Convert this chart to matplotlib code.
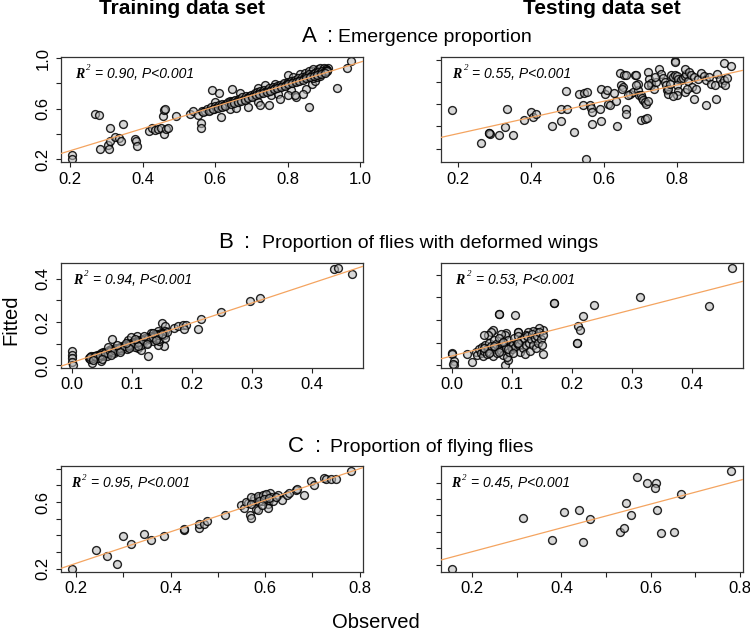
import matplotlib

matplotlib.use("Agg")
import matplotlib.pyplot as plt

W, H = 750, 632
SANS = "Liberation Sans"

# (observed, fitted) pairs
A_TRAIN = [
    (0.976, 0.976), (0.965, 0.921), (0.936, 0.763), (0.858, 0.613), (0.204, 0.232), (0.205, 0.205),
    (0.270, 0.560), (0.279, 0.547), (0.282, 0.284), (0.305, 0.310), (0.307, 0.284), (0.310, 0.342),
    (0.310, 0.450), (0.323, 0.376), (0.334, 0.368), (0.340, 0.342), (0.347, 0.476), (0.380, 0.363),
    (0.381, 0.342), (0.385, 0.305), (0.417, 0.421), (0.427, 0.447), (0.434, 0.429), (0.443, 0.437),
    (0.450, 0.447), (0.459, 0.403), (0.464, 0.442), (0.470, 0.447), (0.455, 0.542), (0.459, 0.587),
    (0.463, 0.600), (0.493, 0.542), (0.530, 0.560), (0.539, 0.579), (0.553, 0.547), (0.560, 0.487),
    (0.562, 0.447), (0.592, 0.745), (0.610, 0.726), (0.647, 0.758), (0.668, 0.724), (0.599, 0.653),
    (0.615, 0.534), (0.640, 0.600), (0.659, 0.605), (0.691, 0.613), (0.719, 0.653), (0.723, 0.632),
    (0.748, 0.626), (0.755, 0.705), (0.774, 0.718), (0.801, 0.868), (0.810, 0.745), (0.824, 0.692),
    (0.852, 0.758), (0.866, 0.797), (0.875, 0.816), (0.903, 0.916), (0.912, 0.921), (0.719, 0.763),
    (0.737, 0.784), (0.765, 0.797), (0.792, 0.797), (0.815, 0.850), (0.834, 0.876), (0.847, 0.884),
    (0.866, 0.895), (0.884, 0.911), (0.898, 0.916), (0.801, 0.705), (0.820, 0.710), (0.843, 0.718),
    (0.778, 0.679), (0.860, 0.900), (0.870, 0.910), (0.880, 0.900), (0.890, 0.920), (0.900, 0.920),
    (0.905, 0.910), (0.910, 0.905), (0.870, 0.840), (0.880, 0.850), (0.890, 0.860),
    (0.565, 0.580), (0.572, 0.585), (0.578, 0.600), (0.585, 0.590), (0.590, 0.610), (0.596, 0.600),
    (0.600, 0.620), (0.605, 0.610), (0.610, 0.630), (0.615, 0.620), (0.620, 0.640), (0.625, 0.630),
    (0.630, 0.640), (0.637, 0.650), (0.640, 0.660), (0.645, 0.650), (0.650, 0.660), (0.655, 0.670),
    (0.660, 0.660), (0.665, 0.680), (0.670, 0.670), (0.675, 0.690), (0.680, 0.680), (0.685, 0.700),
    (0.690, 0.690), (0.695, 0.700), (0.700, 0.710), (0.705, 0.700), (0.710, 0.720), (0.715, 0.730),
    (0.720, 0.720), (0.725, 0.740), (0.730, 0.730), (0.735, 0.750), (0.740, 0.740), (0.745, 0.750),
    (0.750, 0.760), (0.755, 0.750), (0.760, 0.770), (0.765, 0.760), (0.770, 0.780), (0.775, 0.770),
    (0.780, 0.790), (0.785, 0.780), (0.790, 0.800), (0.795, 0.790), (0.800, 0.810), (0.805, 0.800),
    (0.810, 0.820), (0.815, 0.810), (0.820, 0.830), (0.825, 0.820), (0.830, 0.840), (0.835, 0.830),
    (0.840, 0.850), (0.845, 0.840), (0.850, 0.860), (0.855, 0.850), (0.860, 0.870), (0.865, 0.860),
    (0.870, 0.870), (0.875, 0.880), (0.880, 0.870), (0.885, 0.890), (0.890, 0.880), (0.895, 0.900),
    (0.900, 0.890), (0.905, 0.900), (0.910, 0.900),
    (0.568, 0.575), (0.582, 0.585), (0.593, 0.595), (0.607, 0.605), (0.618, 0.615), (0.628, 0.625),
    (0.643, 0.640), (0.652, 0.648), (0.662, 0.655), (0.672, 0.662), (0.683, 0.672), (0.692, 0.685),
    (0.702, 0.695), (0.712, 0.705), (0.722, 0.712), (0.732, 0.722), (0.742, 0.732), (0.752, 0.742),
    (0.762, 0.752), (0.772, 0.762), (0.782, 0.772), (0.792, 0.782), (0.802, 0.792), (0.812, 0.800),
    (0.822, 0.810), (0.832, 0.820), (0.842, 0.830), (0.852, 0.840), (0.862, 0.850), (0.872, 0.860),
    (0.882, 0.865), (0.892, 0.875), (0.902, 0.880),
]

A_TEST = [
    (0.184, 0.546), (0.263, 0.248), (0.285, 0.341), (0.287, 0.332), (0.313, 0.320), (0.329, 0.398),
    (0.336, 0.555), (0.352, 0.320), (0.382, 0.462), (0.402, 0.531), (0.406, 0.486), (0.415, 0.516),
    (0.458, 0.405), (0.482, 0.447), (0.484, 0.561), (0.498, 0.717), (0.500, 0.555), (0.519, 0.350),
    (0.531, 0.690), (0.546, 0.702), (0.555, 0.711), (0.543, 0.591), (0.562, 0.597), (0.566, 0.567),
    (0.568, 0.531), (0.552, 0.110), (0.568, 0.426), (0.592, 0.741), (0.603, 0.696), (0.608, 0.726),
    (0.594, 0.447), (0.589, 0.561), (0.612, 0.606), (0.616, 0.591), (0.635, 0.627), (0.636, 0.405),
    (0.628, 0.705), (0.645, 0.886), (0.657, 0.868), (0.662, 0.862), (0.685, 0.862), (0.689, 0.868),
    (0.648, 0.771), (0.653, 0.756), (0.651, 0.735), (0.660, 0.555), (0.662, 0.516), (0.671, 0.696),
    (0.680, 0.711), (0.694, 0.726), (0.698, 0.681), (0.703, 0.687), (0.705, 0.657), (0.708, 0.636),
    (0.712, 0.621), (0.717, 0.606), (0.721, 0.627), (0.703, 0.456), (0.714, 0.471), (0.718, 0.477),
    (0.722, 0.892), (0.723, 0.826), (0.731, 0.771), (0.731, 0.795), (0.738, 0.741), (0.751, 0.922),
    (0.756, 0.877), (0.763, 0.838), (0.767, 0.802), (0.770, 0.771), (0.773, 0.726), (0.776, 0.696),
    (0.795, 0.988), (0.785, 0.862), (0.790, 0.847), (0.796, 0.868), (0.802, 0.856), (0.805, 0.832),
    (0.811, 0.817), (0.817, 0.838), (0.822, 0.856), (0.826, 0.877), (0.831, 0.808), (0.800, 0.771),
    (0.804, 0.717), (0.802, 0.681), (0.790, 0.672), (0.824, 0.922), (0.833, 0.892), (0.840, 0.862),
    (0.849, 0.847), (0.858, 0.832), (0.868, 0.886), (0.875, 0.856), (0.881, 0.817), (0.888, 0.847),
    (0.895, 0.787), (0.904, 0.771), (0.911, 0.877), (0.918, 0.832), (0.924, 0.795), (0.930, 0.817),
    (0.932, 0.771), (0.939, 0.838), (0.847, 0.645), (0.881, 0.597), (0.909, 0.645), (0.930, 0.976),
    (0.950, 0.946), (0.843, 0.756), (0.852, 0.741), (0.822, 0.711), (0.829, 0.741), (0.776, 0.735),
    (0.781, 0.786), (0.744, 0.801), (0.740, 0.847), (0.722, 0.771), (0.694, 0.786), (0.688, 0.771),
    (0.667, 0.687), (0.795, 0.986), (0.286, 0.339),
]

B_TRAIN = [
    (0.437, 0.445), (0.444, 0.449), (0.466, 0.423), (0.297, 0.295), (0.314, 0.311), (0.248, 0.245),
    (0.216, 0.215), (0.210, 0.169), (0.000, 0.065), (0.000, 0.049), (0.000, 0.034), (0.000, 0.015),
    (0.002, 0.003), (0.150, 0.195), (0.156, 0.180), (0.155, 0.160), (0.153, 0.088), (0.127, 0.045),
    (0.171, 0.172), (0.177, 0.180), (0.185, 0.188), (0.190, 0.188), (0.187, 0.169), (0.067, 0.122),
    (0.033, 0.011), (0.048, 0.019), (0.110, 0.080), (0.116, 0.072), (0.118, 0.103), (0.143, 0.095),
    (0.146, 0.111), (0.109, 0.137), (0.132, 0.149), (0.138, 0.145), (0.143, 0.157), (0.093, 0.118),
    (0.099, 0.129),
    (0.028, 0.035), (0.030, 0.028), (0.032, 0.042), (0.035, 0.033), (0.037, 0.045), (0.040, 0.038),
    (0.042, 0.050), (0.044, 0.035), (0.046, 0.048), (0.048, 0.055), (0.050, 0.042), (0.052, 0.060),
    (0.054, 0.050), (0.056, 0.063), (0.058, 0.045), (0.060, 0.058), (0.062, 0.070), (0.064, 0.060),
    (0.066, 0.075), (0.068, 0.064), (0.070, 0.055), (0.072, 0.078), (0.074, 0.068), (0.076, 0.080),
    (0.078, 0.072), (0.080, 0.085), (0.082, 0.070), (0.084, 0.090), (0.086, 0.080), (0.088, 0.095),
    (0.090, 0.084), (0.092, 0.075), (0.094, 0.098), (0.096, 0.088), (0.098, 0.105), (0.100, 0.094),
    (0.102, 0.110), (0.104, 0.100), (0.106, 0.085), (0.108, 0.112), (0.110, 0.102), (0.112, 0.118),
    (0.114, 0.108), (0.116, 0.095), (0.118, 0.122), (0.120, 0.112), (0.122, 0.128), (0.124, 0.118),
    (0.126, 0.105), (0.128, 0.130), (0.130, 0.122), (0.132, 0.135), (0.134, 0.125), (0.136, 0.112),
    (0.138, 0.140), (0.140, 0.128), (0.142, 0.145), (0.144, 0.132), (0.146, 0.120), (0.148, 0.148),
    (0.150, 0.138), (0.152, 0.150), (0.154, 0.140), (0.156, 0.128), (0.158, 0.152),
    (0.031, 0.038), (0.039, 0.045), (0.047, 0.050), (0.055, 0.055), (0.063, 0.065), (0.071, 0.070),
    (0.079, 0.078), (0.087, 0.088), (0.095, 0.094), (0.103, 0.104), (0.111, 0.110), (0.119, 0.118),
    (0.127, 0.124), (0.135, 0.130), (0.143, 0.138), (0.151, 0.145), (0.036, 0.025), (0.050, 0.030),
    (0.065, 0.050), (0.080, 0.062), (0.095, 0.078), (0.110, 0.090), (0.125, 0.100), (0.140, 0.115),
    (0.060, 0.085), (0.075, 0.095), (0.090, 0.105), (0.105, 0.120), (0.120, 0.135), (0.135, 0.148),
]

B_TEST = [
    (0.466, 0.429), (0.314, 0.300), (0.428, 0.260), (0.237, 0.268), (0.219, 0.216), (0.210, 0.175),
    (0.214, 0.154), (0.209, 0.097), (0.209, 0.098), (0.171, 0.274), (0.171, 0.275), (0.079, 0.228),
    (0.079, 0.227), (0.106, 0.224), (0.000, 0.054), (0.000, 0.051), (0.003, 0.018), (0.004, 0.003),
    (0.002, 0.006), (0.026, 0.050), (0.033, 0.013), (0.088, 0.000), (0.094, 0.025), (0.152, 0.050),
    (0.152, 0.157), (0.146, 0.165), (0.141, 0.147), (0.135, 0.150), (0.127, 0.147), (0.124, 0.132),
    (0.110, 0.147), (0.110, 0.145), (0.091, 0.143), (0.088, 0.132), (0.082, 0.138), (0.068, 0.157),
    (0.066, 0.147), (0.060, 0.132), (0.054, 0.135),
    (0.040, 0.060), (0.042, 0.045), (0.045, 0.070), (0.048, 0.055), (0.050, 0.080), (0.052, 0.040),
    (0.054, 0.065), (0.056, 0.090), (0.058, 0.050), (0.060, 0.075), (0.062, 0.100), (0.064, 0.060),
    (0.066, 0.085), (0.068, 0.040), (0.070, 0.110), (0.072, 0.070), (0.074, 0.095), (0.076, 0.055),
    (0.078, 0.120), (0.080, 0.080), (0.082, 0.065), (0.084, 0.100), (0.086, 0.045), (0.088, 0.090),
    (0.090, 0.075), (0.092, 0.035), (0.094, 0.110), (0.096, 0.060), (0.098, 0.085), (0.100, 0.070),
    (0.102, 0.095), (0.104, 0.120), (0.106, 0.080), (0.108, 0.100), (0.110, 0.130), (0.112, 0.090),
    (0.114, 0.060), (0.116, 0.110), (0.118, 0.075), (0.120, 0.120), (0.122, 0.050), (0.124, 0.090),
    (0.126, 0.130), (0.128, 0.100), (0.130, 0.065), (0.132, 0.115), (0.134, 0.140), (0.136, 0.090),
    (0.138, 0.120), (0.140, 0.075), (0.142, 0.130), (0.144, 0.100), (0.146, 0.145), (0.148, 0.115),
    (0.150, 0.090), (0.152, 0.135), (0.054, 0.075), (0.062, 0.055), (0.070, 0.085), (0.078, 0.060),
    (0.086, 0.105), (0.094, 0.070), (0.102, 0.055), (0.110, 0.100),
]

C_TRAIN = [
    (0.192, 0.200), (0.241, 0.314), (0.266, 0.274), (0.287, 0.230), (0.300, 0.394), (0.317, 0.346),
    (0.344, 0.406), (0.359, 0.374), (0.386, 0.394), (0.428, 0.434), (0.428, 0.440), (0.461, 0.446),
    (0.461, 0.470), (0.470, 0.470), (0.477, 0.484), (0.514, 0.520), (0.548, 0.580), (0.556, 0.564),
    (0.563, 0.596), (0.567, 0.524), (0.569, 0.504), (0.574, 0.604), (0.577, 0.624), (0.581, 0.560),
    (0.585, 0.550), (0.590, 0.630), (0.593, 0.604), (0.599, 0.644), (0.602, 0.620), (0.605, 0.590),
    (0.606, 0.566), (0.609, 0.610), (0.611, 0.656), (0.613, 0.630), (0.616, 0.604), (0.627, 0.640),
    (0.635, 0.610), (0.646, 0.644), (0.651, 0.656), (0.665, 0.670), (0.667, 0.676), (0.683, 0.644),
    (0.697, 0.724), (0.703, 0.704), (0.725, 0.746), (0.729, 0.736), (0.739, 0.736), (0.750, 0.736),
    (0.782, 0.786), (0.560, 0.600), (0.571, 0.630), (0.584, 0.636), (0.596, 0.640), (0.601, 0.650),
    (0.587, 0.604), (0.598, 0.616), (0.608, 0.624), (0.623, 0.630), (0.593, 0.580), (0.571, 0.590),
]

C_TEST = [
    (0.155, 0.173), (0.313, 0.486), (0.379, 0.351), (0.406, 0.520), (0.439, 0.531), (0.448, 0.341),
    (0.465, 0.476), (0.532, 0.398), (0.540, 0.424), (0.544, 0.576), (0.555, 0.500), (0.569, 0.735),
    (0.592, 0.700), (0.613, 0.698), (0.610, 0.667), (0.615, 0.535), (0.624, 0.392), (0.652, 0.398),
    (0.669, 0.633), (0.781, 0.771),
]

# intercept, slope of the drawn regression lines
FIT_A_TRAIN = (0.093, 0.874)
FIT_A_TEST = (0.189, 0.731)
FIT_B_TRAIN = (0.013, 0.915)
FIT_B_TEST = (0.041, 0.681)
FIT_C_TRAIN = (0.043, 0.946)
FIT_C_TEST = (0.134, 0.726)

R2_TEXT = ["0.90", "0.55", "0.94", "0.53", "0.95", "0.45"]
COL_TITLES = ["Training data set", "Testing data set"]
ROW_LETTERS = ["A", "B", "C"]
ROW_TITLES = ["Emergence proportion", "Proportion of flies with deformed wings",
              "Proportion of flying flies"]

# panel boxes in image pixels
COLS = [(61, 363), (441, 743)]
ROWS = [(57, 162.5), (263, 368), (466, 572)]

PANELS = [
    dict(data=A_TRAIN, fit=FIT_A_TRAIN, xlim=(0.175, 1.008), ylim=(0.175, 1.008),
         xt=[0.2, 0.4, 0.6, 0.8, 1.0], xl=["0.2", "0.4", "0.6", "0.8", "1.0"],
         yt=[0.2, 0.4, 0.6, 0.8, 1.0], yl=["0.2", "", "0.6", "", "1.0"], dx=14),
    dict(data=A_TEST, fit=FIT_A_TEST, xlim=(0.154, 0.982), ylim=(0.075, 1.027),
         xt=[0.2, 0.4, 0.6, 0.8], xl=["0.2", "0.4", "0.6", "0.8"],
         yt=[0.2, 0.4, 0.6, 0.8, 1.0], yl=None, dx=11),
    dict(data=B_TRAIN, fit=FIT_B_TRAIN, xlim=(-0.018, 0.485), ylim=(-0.012, 0.472),
         xt=[0.0, 0.1, 0.2, 0.3, 0.4], xl=["0.0", "0.1", "0.2", "0.3", "0.4"],
         yt=[0.0, 0.1, 0.2, 0.3, 0.4], yl=["0.0", "", "0.2", "", "0.4"], dx=12),
    dict(data=B_TEST, fit=FIT_B_TEST, xlim=(-0.018, 0.485), ylim=(-0.012, 0.452),
         xt=[0.0, 0.1, 0.2, 0.3, 0.4], xl=["0.0", "0.1", "0.2", "0.3", "0.4"],
         yt=[0.0, 0.1, 0.2, 0.3, 0.4], yl=None, dx=14.5),
    dict(data=C_TRAIN, fit=FIT_C_TRAIN, xlim=(0.168, 0.807), ylim=(0.18, 0.816),
         xt=[0.2, 0.3, 0.4, 0.5, 0.6, 0.7, 0.8], xl=["0.2", "", "0.4", "", "0.6", "", "0.8"],
         yt=[0.2, 0.3, 0.4, 0.5, 0.6, 0.7, 0.8], yl=["0.2", "", "", "", "0.6", "", ""], dx=10),
    dict(data=C_TEST, fit=FIT_C_TEST, xlim=(0.130, 0.807), ylim=(0.155, 0.802),
         xt=[0.2, 0.3, 0.4, 0.5, 0.6, 0.7, 0.8], xl=["0.2", "", "0.4", "", "0.6", "", "0.8"],
         yt=[0.2, 0.3, 0.4, 0.5, 0.6, 0.7], yl=None, dx=10),
]


def fig_xy(x, y):
    return x / W, 1 - y / H


def draw_panel(fig, box, p, r2):
    (x0, x1), (y0, y1) = box
    ax = fig.add_axes([x0 / W, 1 - y1 / H, (x1 - x0) / W, (y1 - y0) / H])
    obs = [d[0] for d in p["data"]]
    fit = [d[1] for d in p["data"]]
    ax.set_xlim(p["xlim"])
    ax.set_ylim(p["ylim"])
    b0, b1 = p["fit"]
    ax.plot(p["xlim"], [b0 + b1 * v for v in p["xlim"]], color="#f4a460", lw=0.9, zorder=3)
    ax.scatter(obs, fit, s=32, facecolor=(0.72, 0.72, 0.72, 0.55),
               edgecolor=(0, 0, 0, 0.85), linewidth=1.0, zorder=2)
    ax.set_xticks(p["xt"], p["xl"])
    ax.set_yticks(p["yt"], p["yl"] if p["yl"] else [""] * len(p["yt"]))
    ax.tick_params(direction="out", length=3.6, width=0.8, color="#222222",
                   labelsize=12, pad=3)
    ax.tick_params(axis="y", pad=4)
    for lab in ax.get_xticklabels() + ax.get_yticklabels():
        lab.set_family(SANS)
    for lab in ax.get_yticklabels():
        lab.set_rotation(90)
        lab.set_va("center")
    for sp in ax.spines.values():
        sp.set_color("#333333")
        sp.set_linewidth(0.9)

    dx = p["dx"]
    ax.annotate("R", xy=(0, 1), xycoords="axes fraction", xytext=(dx, -21),
                textcoords="offset pixels", family="Liberation Serif", weight="bold",
                style="italic", fontsize=10, va="baseline")
    ax.annotate("2", xy=(0, 1), xycoords="axes fraction", xytext=(dx + 11.5, -13.5),
                textcoords="offset pixels", family="Liberation Serif", style="italic",
                fontsize=6.5, va="baseline")
    ax.annotate(f"= {r2}, P<0.001", xy=(0, 1), xycoords="axes fraction",
                xytext=(dx + 20, -21), textcoords="offset pixels", family=SANS,
                style="italic", fontsize=10, va="baseline")
    return ax


def main() -> None:
    fig = plt.figure(figsize=(W / 100, H / 100), dpi=100)

    for i, p in enumerate(PANELS):
        draw_panel(fig, (COLS[i % 2], ROWS[i // 2]), p, R2_TEXT[i])

    # column titles
    for title, cx in zip(COL_TITLES, [182, 602]):
        fig.text(*fig_xy(cx, 14), title, ha="center", va="baseline",
                 fontsize=15, weight="bold", family=SANS)

    # row headings: letter, colon, description
    heads = [(301.7, 330, 338.5, 41.5), (218, 247, 262, 248), (288, 318.5, 330, 451.5)]
    for letter, title, (lx, cx, tx, by) in zip(ROW_LETTERS, ROW_TITLES, heads):
        fig.text(*fig_xy(lx, by), letter, ha="left", va="baseline", fontsize=16, family=SANS)
        fig.text(*fig_xy(cx, by), ":", ha="center", va="baseline", fontsize=16, family=SANS)
        fig.text(*fig_xy(tx, by), title, ha="left", va="baseline", fontsize=14, family=SANS)

    fig.text(*fig_xy(11, 320), "Fitted", rotation=90, ha="center", va="center",
             fontsize=14.5, family=SANS)
    fig.text(*fig_xy(376, 622), "Observed", ha="center", va="center",
             fontsize=14.5, family=SANS)

    fig.savefig("out.png", dpi=100)
    plt.close(fig)


if __name__ == "__main__":
    main()
